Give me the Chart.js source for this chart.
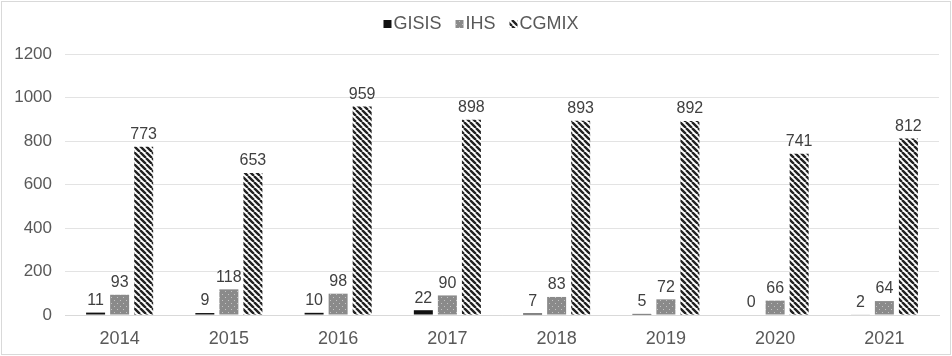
<!DOCTYPE html>
<html>
<head>
<meta charset="utf-8">
<script src="https://cdn.jsdelivr.net/npm/chart.js@4"></script>
<style>
  html, body { margin: 0; padding: 0; background: #fff; }
  #wrap { position: absolute; left: 1px; top: 1px; width: 948px; height: 352px; border: 1px solid #d9d9d9; }
</style>
</head>
<body>
<div id="wrap"><canvas id="chart"></canvas></div>
<script>
var years = ["2014", "2015", "2016", "2017", "2018", "2019", "2020", "2021"];
var gisis = [11, 9, 10, 22, 7, 5, 0, 2];
var ihs = [93, 118, 98, 90, 83, 72, 66, 64];
var cgmix = [773, 653, 959, 898, 893, 892, 741, 812];

var FONT = "'Liberation Sans', Arial, sans-serif";

function dotPattern() {
    var c = document.createElement("canvas");
    c.width = 6; c.height = 6;
    var g = c.getContext("2d");
    g.fillStyle = "#8a8a8a";
    g.fillRect(0, 0, 6, 6);
    g.fillStyle = "#c4c4c4";
    g.fillRect(1, 1, 1, 1);
    g.fillRect(4, 4, 1, 1);
    return g.createPattern(c, "repeat");
}

function stripePattern() {
    var c = document.createElement("canvas");
    c.width = 6; c.height = 6;
    var g = c.getContext("2d");
    g.fillStyle = "#fff";
    g.fillRect(0, 0, 6, 6);
    g.strokeStyle = "#222";
    g.lineWidth = 2.4;
    g.beginPath();
    for (var k = -6; k <= 6; k += 6) {
        g.moveTo(k, 0);
        g.lineTo(k + 6, 6);
    }
    g.stroke();
    return g.createPattern(c, "repeat");
}

// value labels above each bar
var barLabels = {
    id: "barLabels",
    afterDatasetsDraw: function(chart) {
        var ctx = chart.ctx;
        ctx.save();
        ctx.font = "16px " + FONT;
        ctx.fillStyle = "#404040";
        ctx.textAlign = "center";
        ctx.textBaseline = "bottom";
        chart.data.datasets.forEach(function(ds, i) {
            chart.getDatasetMeta(i).data.forEach(function(bar, j) {
                ctx.fillText(ds.data[j], bar.x, bar.y - 4);
            });
        });
        ctx.restore();
    }
};

// small legend at the top, box close to the text
var topLegend = {
    id: "topLegend",
    afterDraw: function(chart) {
        var ctx = chart.ctx;
        ctx.save();
        ctx.font = "18px " + FONT;
        ctx.textBaseline = "middle";
        var box = 8, gap = 2, space = 14;
        var items = chart.data.datasets.map(function(ds) {
            return { ds: ds, w: box + gap + ctx.measureText(ds.label).width };
        });
        var total = items.reduce(function(a, it) { return a + it.w; }, 0) + space * (items.length - 1);
        var x = chart.width / 2 + 5 - total / 2;
        var y = 22;
        items.forEach(function(it) {
            ctx.fillStyle = it.ds.backgroundColor;
            ctx.fillRect(x, y - box / 2, box, box);
            ctx.fillStyle = "#595959";
            ctx.fillText(it.ds.label, x + box + gap, y);
            x += it.w + space;
        });
        ctx.restore();
    }
};

var ctx = document.getElementById("chart").getContext("2d");
var myChart = new Chart(ctx, {
    type: "bar",
    data: {
        labels: years,
        datasets: [{
            label: "GISIS",
            data: gisis,
            backgroundColor: "#111"
        }, {
            label: "IHS",
            data: ihs,
            backgroundColor: dotPattern()
        }, {
            label: "CGMIX",
            data: cgmix,
            backgroundColor: stripePattern()
        }]
    },
    options: {
        responsive: true,
        maintainAspectRatio: false,
        animation: false,
        layout: { padding: { left: 0, right: 11, top: 52, bottom: 0 } },
        datasets: {
            bar: { categoryPercentage: 0.66, barPercentage: 0.79 }
        },
        plugins: {
            legend: { display: false },
            tooltip: { enabled: false }
        },
        scales: {
            x: {
                grid: { display: false },
                border: { color: "#d9d9d9" },
                ticks: { color: "#595959", padding: 5, font: { size: 18, family: FONT } },
                afterFit: function(scale) { scale.height = 39; }
            },
            y: {
                min: 0,
                max: 1200,
                ticks: {
                    stepSize: 200,
                    color: "#595959",
                    padding: 13,
                    font: { size: 17, family: FONT },
                    callback: function(v) { return String(v); }
                },
                grid: { color: "#e3e3e3", drawTicks: false },
                border: { display: false },
                afterFit: function(scale) { scale.width = 63; }
            }
        }
    },
    plugins: [barLabels, topLegend]
});
</script>
</body>
</html>
